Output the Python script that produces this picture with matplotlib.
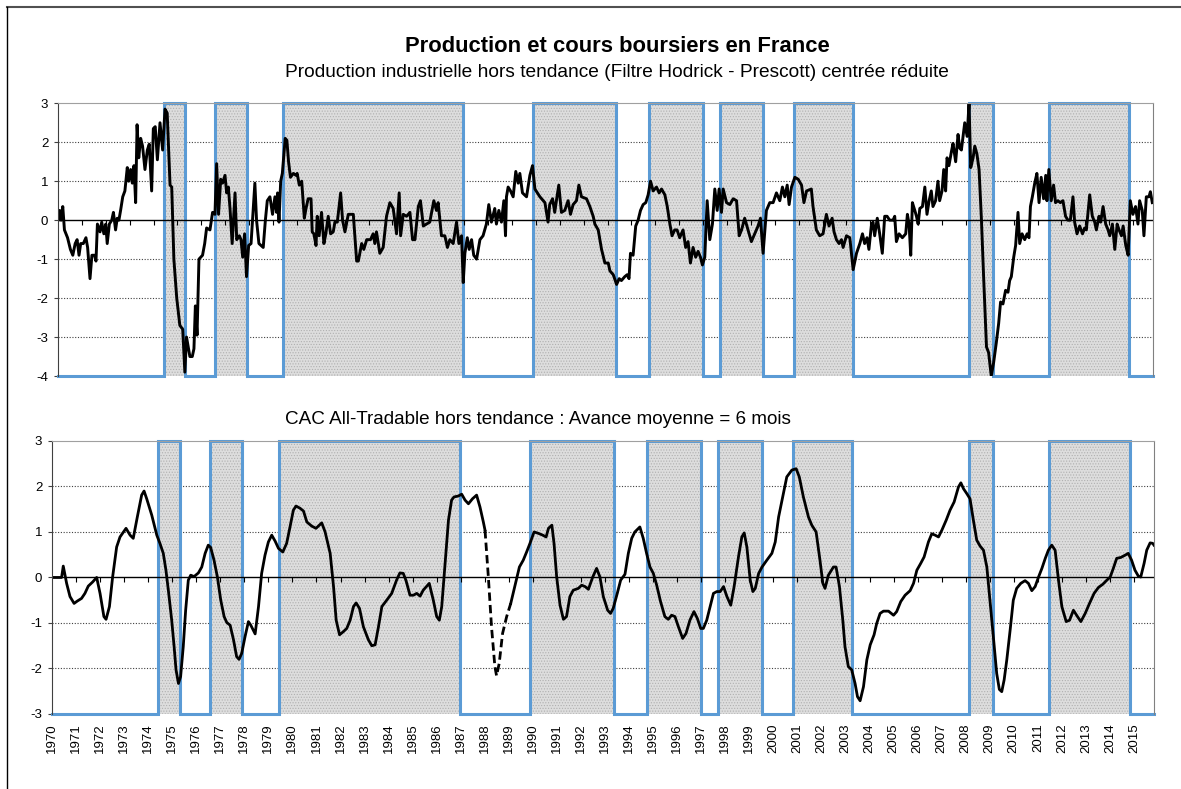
#!/usr/bin/env python3
"""
Production et cours boursiers en France : two stacked panels
(industrial production and CAC All-Tradable, detrended) with shaded phases.
"""

import matplotlib
matplotlib.use("Agg")
import matplotlib.pyplot as plt
from matplotlib.lines import Line2D

plt.rcParams["font.family"] = ["Liberation Sans", "DejaVu Sans"]
plt.rcParams["axes.unicode_minus"] = False
plt.rcParams["hatch.linewidth"] = 0.5

TITLE = "Production et cours boursiers en France"
SUBTITLE_TOP = "Production industrielle hors tendance (Filtre Hodrick - Prescott) centrée réduite"
SUBTITLE_BOTTOM = "CAC All-Tradable hors tendance : Avance moyenne = 6 mois"

# shaded phases (start, end) in decimal years
rec_start = [1974.42, 1976.58, 1979.43, 1989.86, 1994.75, 1997.69, 2000.82, 2008.12, 2011.46]
rec_end = [1975.31, 1977.90, 1986.97, 1993.36, 1997.00, 1999.52, 2003.28, 2009.15, 2014.83]

# industrial production, detrended and standardised
ip_year = [
    1970.00, 1970.07, 1970.13, 1970.20, 1970.27, 1970.40, 1970.52, 1970.62, 1970.72, 1970.80,
    1970.88, 1970.95, 1971.06, 1971.17, 1971.24, 1971.34, 1971.42, 1971.53, 1971.59, 1971.65,
    1971.76, 1971.83, 1971.92, 1972.00, 1972.06, 1972.15, 1972.25, 1972.32, 1972.41, 1972.48,
    1972.55, 1972.62, 1972.71, 1972.80, 1972.90, 1972.96, 1973.04, 1973.11, 1973.18, 1973.25,
    1973.31, 1973.38, 1973.46, 1973.54, 1973.64, 1973.74, 1973.82, 1973.92, 1973.99, 1974.07,
    1974.16, 1974.27, 1974.38, 1974.48, 1974.57, 1974.69, 1974.76, 1974.85, 1974.97, 1975.10,
    1975.22, 1975.31, 1975.38, 1975.52, 1975.62, 1975.69, 1975.75, 1975.82, 1975.90, 1976.05,
    1976.14, 1976.22, 1976.36, 1976.47, 1976.57, 1976.64, 1976.72, 1976.81, 1976.89, 1976.99,
    1977.06, 1977.13, 1977.20, 1977.29, 1977.41, 1977.48, 1977.59, 1977.66, 1977.73, 1977.81,
    1977.89, 1977.98, 1978.08, 1978.24, 1978.31, 1978.41, 1978.59, 1978.68, 1978.76, 1978.87,
    1978.98, 1979.08, 1979.15, 1979.19, 1979.25, 1979.32, 1979.39, 1979.51, 1979.58, 1979.65,
    1979.73, 1979.85, 1979.96, 1980.01, 1980.10, 1980.20, 1980.31, 1980.38, 1980.47, 1980.59,
    1980.64, 1980.71, 1980.80, 1980.85, 1980.93, 1981.03, 1981.13, 1981.21, 1981.31, 1981.41,
    1981.52, 1981.59, 1981.69, 1981.83, 1981.91, 1982.01, 1982.15, 1982.36, 1982.50, 1982.57,
    1982.71, 1982.80, 1982.92, 1983.08, 1983.19, 1983.26, 1983.33, 1983.47, 1983.61, 1983.75,
    1983.89, 1984.03, 1984.17, 1984.28, 1984.34, 1984.45, 1984.59, 1984.73, 1984.84, 1984.94,
    1985.08, 1985.17, 1985.29, 1985.42, 1985.56, 1985.73, 1985.84, 1985.91, 1986.05, 1986.19,
    1986.30, 1986.40, 1986.54, 1986.68, 1986.78, 1986.89, 1986.96, 1987.03, 1987.13, 1987.21,
    1987.31, 1987.40, 1987.52, 1987.66, 1987.79, 1987.93, 1988.03, 1988.14, 1988.28, 1988.35,
    1988.45, 1988.56, 1988.66, 1988.73, 1988.77, 1988.84, 1988.94, 1989.05, 1989.16, 1989.26,
    1989.33, 1989.44, 1989.61, 1989.75, 1989.86, 1989.96, 1990.17, 1990.38, 1990.51, 1990.58,
    1990.70, 1990.79, 1990.86, 1990.96, 1991.07, 1991.21, 1991.35, 1991.45, 1991.56, 1991.70,
    1991.80, 1991.91, 1992.12, 1992.26, 1992.40, 1992.47, 1992.61, 1992.75, 1992.89, 1993.03,
    1993.10, 1993.24, 1993.38, 1993.49, 1993.58, 1993.72, 1993.82, 1993.90, 1993.96, 1994.07,
    1994.18, 1994.28, 1994.38, 1994.49, 1994.60, 1994.70, 1994.80, 1994.91, 1995.05, 1995.16,
    1995.26, 1995.40, 1995.50, 1995.61, 1995.70, 1995.81, 1995.91, 1996.02, 1996.16, 1996.27,
    1996.37, 1996.47, 1996.58, 1996.69, 1996.79, 1996.89, 1996.97, 1997.07, 1997.17, 1997.28,
    1997.39, 1997.49, 1997.59, 1997.67, 1997.77, 1997.84, 1997.98, 1998.12, 1998.26, 1998.40,
    1998.51, 1998.61, 1998.74, 1998.88, 1999.02, 1999.16, 1999.30, 1999.40, 1999.51, 1999.65,
    1999.79, 1999.93, 2000.07, 2000.21, 2000.32, 2000.42, 2000.52, 2000.60, 2000.70, 2000.84,
    2000.98, 2001.12, 2001.22, 2001.33, 2001.53, 2001.60, 2001.74, 2001.88, 2002.02, 2002.16,
    2002.27, 2002.40, 2002.48, 2002.58, 2002.69, 2002.79, 2002.86, 2003.00, 2003.14, 2003.28,
    2003.42, 2003.56, 2003.67, 2003.76, 2003.86, 2003.94, 2004.04, 2004.11, 2004.18, 2004.29,
    2004.39, 2004.50, 2004.60, 2004.70, 2004.81, 2004.95, 2005.02, 2005.09, 2005.20, 2005.34,
    2005.48, 2005.55, 2005.62, 2005.69, 2005.76, 2005.86, 2005.93, 2006.00, 2006.07, 2006.18,
    2006.28, 2006.37, 2006.46, 2006.55, 2006.62, 2006.73, 2006.83, 2006.90, 2007.00, 2007.07,
    2007.15, 2007.21, 2007.29, 2007.39, 2007.46, 2007.57, 2007.67, 2007.74, 2007.81, 2007.95,
    2008.05, 2008.13, 2008.20, 2008.30, 2008.37, 2008.46, 2008.55, 2008.65, 2008.74, 2008.86,
    2008.95, 2009.06, 2009.16, 2009.27, 2009.37, 2009.45, 2009.55, 2009.66, 2009.76, 2009.83,
    2009.90, 2010.00, 2010.08, 2010.18, 2010.25, 2010.35, 2010.46, 2010.56, 2010.64, 2010.70,
    2010.78, 2010.88, 2010.97, 2011.06, 2011.15, 2011.25, 2011.34, 2011.39, 2011.47, 2011.57,
    2011.67, 2011.75, 2011.85, 2011.95, 2012.06, 2012.17, 2012.27, 2012.37, 2012.48, 2012.55,
    2012.65, 2012.76, 2012.88, 2012.97, 2013.04, 2013.18, 2013.29, 2013.39, 2013.46, 2013.57,
    2013.64, 2013.74, 2013.85, 2013.95, 2014.02, 2014.13, 2014.23, 2014.33, 2014.41, 2014.51,
    2014.58, 2014.69, 2014.79, 2014.88, 2014.99, 2015.10, 2015.20, 2015.27, 2015.38, 2015.45,
    2015.55, 2015.66, 2015.72, 2015.80,
]
ip_value = [
    0.00, 0.25, 0.00, 0.35, -0.25, -0.45, -0.75, -0.90, -0.60, -0.50,
    -0.90, -0.60, -0.60, -0.45, -0.70, -1.50, -0.90, -0.90, -1.05, -0.10,
    -0.30, -0.05, -0.35, -0.10, -0.60, -0.10, 0.00, 0.20, -0.25, 0.05,
    0.00, 0.25, 0.60, 0.75, 1.35, 1.00, 1.30, 0.95, 1.40, 0.45,
    2.45, 1.60, 2.10, 1.90, 1.30, 1.80, 1.95, 0.75, 2.35, 2.40,
    1.55, 2.50, 1.80, 2.85, 2.75, 0.90, 0.85, -1.00, -2.00, -2.70,
    -2.80, -3.90, -3.00, -3.50, -3.50, -3.30, -2.20, -2.95, -1.00, -0.90,
    -0.60, -0.20, -0.25, 0.20, 0.15, 1.45, 0.15, 1.05, 0.95, 1.15,
    0.70, 0.85, 0.30, -0.60, 0.70, -0.50, -0.40, -0.50, -0.95, -0.35,
    -1.45, -0.65, -0.60, 0.95, 0.00, -0.60, -0.70, 0.00, 0.50, 0.60,
    0.15, 0.60, 0.20, 0.70, -0.05, 1.00, 1.20, 2.10, 2.05, 1.50,
    1.10, 1.20, 1.15, 1.20, 0.90, 1.00, 0.05, 0.30, 0.55, 0.55,
    -0.30, -0.35, -0.65, 0.10, -0.40, 0.20, -0.60, -0.35, 0.10, -0.35,
    -0.30, -0.05, -0.05, 0.70, 0.00, -0.30, 0.15, 0.15, -1.05, -1.05,
    -0.60, -0.75, -0.50, -0.50, -0.35, -0.60, -0.30, -0.85, -0.70, 0.10,
    0.45, 0.30, -0.35, 0.70, -0.40, 0.15, 0.10, 0.20, -0.50, -0.50,
    0.35, 0.50, -0.15, -0.10, -0.05, 0.50, 0.25, 0.45, -0.40, -0.40,
    -0.70, -0.50, -0.60, -0.05, -0.60, -0.40, -1.60, -0.85, -0.45, -0.75,
    -0.50, -0.90, -1.00, -0.50, -0.40, -0.10, 0.40, -0.05, 0.30, -0.10,
    0.25, -0.05, 0.50, -0.40, 0.60, 0.85, 0.75, 0.60, 1.25, 0.95,
    1.20, 0.70, 0.60, 1.15, 1.40, 0.80, 0.60, 0.45, -0.05, 0.40,
    0.55, 0.20, 0.50, 0.90, 0.20, 0.25, 0.50, 0.15, 0.40, 0.50,
    0.90, 0.60, 0.55, 0.35, 0.10, -0.10, -0.25, -0.75, -1.10, -1.10,
    -1.30, -1.40, -1.65, -1.50, -1.55, -1.45, -1.40, -1.50, -0.85, -0.90,
    -0.15, 0.00, 0.25, 0.40, 0.45, 0.65, 1.00, 0.75, 0.85, 0.70,
    0.80, 0.65, 0.35, -0.10, -0.40, -0.25, -0.25, -0.45, -0.25, -0.70,
    -0.55, -1.10, -0.70, -0.95, -0.80, -0.95, -1.15, -0.95, 0.50, -0.50,
    -0.10, 0.80, 0.25, 0.80, 0.20, 0.80, 0.45, 0.40, 0.55, 0.50,
    -0.40, -0.25, 0.05, -0.25, -0.55, -0.35, -0.15, 0.05, -0.85, 0.25,
    0.45, 0.45, 0.70, 0.50, 0.85, 0.60, 0.90, 0.40, 0.85, 1.10,
    1.05, 0.90, 0.45, 0.75, 0.80, 0.35, -0.25, -0.40, -0.35, 0.15,
    -0.15, 0.05, -0.30, -0.50, -0.60, -0.50, -0.70, -0.40, -0.45, -1.27,
    -0.85, -0.60, -0.35, -0.60, -0.45, -0.75, -0.15, -0.05, -0.40, 0.05,
    -0.35, -0.85, 0.10, 0.10, 0.00, 0.00, 0.10, -0.55, -0.35, -0.45,
    -0.35, 0.15, -0.10, -0.90, 0.45, 0.25, 0.10, -0.10, 0.30, 0.35,
    0.85, 0.15, 0.50, 0.75, 0.35, 0.50, 1.00, 0.50, 0.75, 1.30,
    0.75, 1.60, 1.40, 1.75, 1.97, 1.50, 2.20, 1.85, 1.80, 2.50,
    2.15, 3.00, 1.35, 1.60, 1.90, 1.70, 1.30, 0.00, -1.45, -3.25,
    -3.40, -4.00, -3.65, -3.15, -2.65, -2.10, -2.15, -1.80, -1.85, -1.55,
    -1.45, -0.95, -0.65, 0.20, -0.60, -0.35, -0.50, -0.35, -0.45, 0.35,
    0.60, 0.95, 1.20, 0.45, 1.10, 0.55, 1.15, 0.50, 1.30, 0.50,
    0.90, 0.45, 0.50, 0.45, 0.50, 0.10, 0.00, 0.00, 0.60, -0.05,
    -0.35, -0.15, -0.35, -0.20, -0.25, 0.65, 0.10, -0.05, -0.25, 0.10,
    -0.05, 0.35, -0.10, -0.25, -0.40, -0.10, -0.75, -0.10, -0.25, -0.40,
    -0.15, -0.65, -0.90, 0.50, 0.15, 0.35, -0.10, 0.50, 0.25, -0.40,
    0.60, 0.60, 0.73, 0.45,
]

# CAC All-Tradable, detrended (dashed stretch in 1988)
cac_year = [
    1970.00, 1970.40, 1970.47, 1970.61, 1970.75, 1970.92, 1971.05, 1971.23, 1971.37, 1971.51,
    1971.69, 1971.86, 1972.00, 1972.16, 1972.25, 1972.39, 1972.52, 1972.69, 1972.83, 1973.08,
    1973.25, 1973.38, 1973.55, 1973.73, 1973.83, 1973.94, 1974.15, 1974.36, 1974.49, 1974.63,
    1974.74, 1974.84, 1974.98, 1975.08, 1975.16, 1975.26, 1975.35, 1975.46, 1975.56, 1975.67,
    1975.77, 1975.91, 1976.09, 1976.23, 1976.37, 1976.50, 1976.60, 1976.74, 1976.88, 1977.02,
    1977.16, 1977.27, 1977.41, 1977.55, 1977.68, 1977.78, 1977.89, 1978.03, 1978.17, 1978.27,
    1978.45, 1978.59, 1978.72, 1978.86, 1979.00, 1979.14, 1979.28, 1979.42, 1979.60, 1979.76,
    1979.90, 1980.04, 1980.15, 1980.32, 1980.46, 1980.60, 1980.80, 1980.98, 1981.08, 1981.22,
    1981.36, 1981.57, 1981.71, 1981.82, 1981.96, 1982.12, 1982.26, 1982.40, 1982.54, 1982.65,
    1982.79, 1982.95, 1983.16, 1983.30, 1983.44, 1983.58, 1983.72, 1983.92, 1984.13, 1984.33,
    1984.47, 1984.61, 1984.72, 1984.89, 1985.03, 1985.17, 1985.31, 1985.44, 1985.69, 1985.86,
    1986.00, 1986.11, 1986.21, 1986.35, 1986.49, 1986.62, 1986.72, 1986.90, 1987.04, 1987.18,
    1987.32, 1987.49, 1987.66, 1987.80, 1987.94, 1988.01, 1988.15, 1988.28, 1988.42, 1988.49,
    1988.60, 1988.74, 1988.91, 1989.08, 1989.26, 1989.44, 1989.60, 1989.74, 1989.88, 1990.05,
    1990.23, 1990.41, 1990.55, 1990.65, 1990.79, 1990.88, 1990.99, 1991.13, 1991.27, 1991.40,
    1991.54, 1991.68, 1991.89, 1992.03, 1992.17, 1992.31, 1992.49, 1992.65, 1992.79, 1992.93,
    1993.11, 1993.23, 1993.34, 1993.51, 1993.65, 1993.83, 1993.97, 1994.11, 1994.24, 1994.45,
    1994.59, 1994.73, 1994.87, 1995.01, 1995.15, 1995.31, 1995.49, 1995.63, 1995.77, 1995.91,
    1996.05, 1996.23, 1996.37, 1996.53, 1996.70, 1996.84, 1996.98, 1997.09, 1997.23, 1997.37,
    1997.51, 1997.65, 1997.79, 1997.93, 1998.07, 1998.23, 1998.37, 1998.55, 1998.69, 1998.79,
    1998.90, 1999.04, 1999.15, 1999.25, 1999.39, 1999.53, 1999.73, 1999.94, 2000.08, 2000.22,
    2000.39, 2000.56, 2000.77, 2000.95, 2001.08, 2001.25, 2001.46, 2001.60, 2001.78, 2001.94,
    2002.06, 2002.15, 2002.29, 2002.50, 2002.61, 2002.75, 2002.89, 2002.98, 2003.12, 2003.26,
    2003.40, 2003.50, 2003.61, 2003.75, 2003.89, 2004.03, 2004.19, 2004.30, 2004.44, 2004.58,
    2004.79, 2005.00, 2005.13, 2005.30, 2005.48, 2005.69, 2005.83, 2005.97, 2006.13, 2006.27,
    2006.45, 2006.59, 2006.73, 2006.87, 2007.01, 2007.19, 2007.35, 2007.52, 2007.70, 2007.80,
    2007.91, 2008.05, 2008.18, 2008.32, 2008.46, 2008.60, 2008.74, 2008.88, 2009.01, 2009.15,
    2009.29, 2009.40, 2009.50, 2009.60, 2009.71, 2009.85, 2009.98, 2010.12, 2010.29, 2010.47,
    2010.61, 2010.75, 2010.89, 2011.03, 2011.17, 2011.31, 2011.44, 2011.58, 2011.72, 2011.86,
    2012.00, 2012.18, 2012.32, 2012.48, 2012.65, 2012.79, 2012.97, 2013.15, 2013.34, 2013.52,
    2013.70, 2013.87, 2014.01, 2014.14, 2014.28, 2014.45, 2014.63, 2014.76, 2014.90, 2015.04,
    2015.18, 2015.28, 2015.42, 2015.53, 2015.67, 2015.78, 2015.83,
]
cac_value = [
    0.00, 0.00, 0.25, -0.13, -0.42, -0.57, -0.52, -0.46, -0.35, -0.19,
    -0.10, 0.00, -0.35, -0.86, -0.92, -0.64, 0.00, 0.67, 0.89, 1.08,
    0.93, 0.86, 1.33, 1.81, 1.90, 1.73, 1.37, 0.93, 0.75, 0.53,
    0.16, -0.28, -0.94, -1.52, -2.03, -2.33, -2.18, -1.52, -0.72, -0.06,
    0.05, 0.02, 0.10, 0.23, 0.53, 0.71, 0.66, 0.38, 0.01, -0.50,
    -0.86, -0.99, -1.05, -1.37, -1.74, -1.80, -1.67, -1.30, -0.97, -1.05,
    -1.24, -0.64, 0.09, 0.49, 0.78, 0.93, 0.80, 0.64, 0.56, 0.75,
    1.11, 1.48, 1.57, 1.52, 1.46, 1.22, 1.13, 1.08, 1.13, 1.20,
    1.00, 0.53, -0.20, -0.94, -1.26, -1.19, -1.12, -0.94, -0.64, -0.56,
    -0.68, -1.08, -1.37, -1.50, -1.48, -1.08, -0.64, -0.50, -0.35, -0.06,
    0.10, 0.09, -0.06, -0.39, -0.39, -0.35, -0.41, -0.28, -0.13, -0.50,
    -0.86, -0.94, -0.64, 0.31, 1.26, 1.70, 1.77, 1.79, 1.83, 1.70,
    1.62, 1.73, 1.81, 1.55, 1.22, 1.04, 0.00, -1.08, -1.96, -2.16,
    -1.89, -1.23, -0.86, -0.57, -0.17, 0.23, 0.38, 0.56, 0.75, 1.00,
    0.97, 0.93, 0.89, 1.08, 1.15, 0.75, 0.01, -0.61, -0.92, -0.86,
    -0.42, -0.28, -0.24, -0.17, -0.20, -0.26, 0.01, 0.20, 0.01, -0.42,
    -0.72, -0.79, -0.68, -0.35, -0.06, 0.07, 0.53, 0.86, 1.00, 1.11,
    0.86, 0.53, 0.23, 0.09, -0.17, -0.53, -0.86, -0.92, -0.83, -0.86,
    -1.08, -1.34, -1.23, -0.94, -0.75, -0.90, -1.12, -1.12, -0.94, -0.64,
    -0.35, -0.31, -0.31, -0.20, -0.42, -0.61, -0.20, 0.45, 0.89, 0.98,
    0.67, -0.06, -0.31, -0.24, 0.09, 0.23, 0.38, 0.53, 0.78, 1.33,
    1.77, 2.21, 2.36, 2.39, 2.21, 1.77, 1.33, 1.15, 1.00, 0.38,
    -0.13, -0.24, 0.05, 0.23, 0.23, -0.20, -0.94, -1.52, -1.96, -2.03,
    -2.33, -2.62, -2.71, -2.40, -1.81, -1.48, -1.26, -1.01, -0.79, -0.74,
    -0.74, -0.83, -0.75, -0.53, -0.39, -0.29, -0.13, 0.16, 0.31, 0.45,
    0.78, 0.96, 0.93, 0.89, 1.04, 1.26, 1.48, 1.66, 1.99, 2.08,
    1.95, 1.84, 1.73, 1.26, 0.82, 0.69, 0.60, 0.23, -0.50, -1.30,
    -2.11, -2.46, -2.51, -2.25, -1.81, -1.15, -0.50, -0.24, -0.13, -0.07,
    -0.13, -0.29, -0.20, 0.01, 0.20, 0.42, 0.60, 0.71, 0.60, -0.06,
    -0.64, -0.97, -0.94, -0.72, -0.86, -0.97, -0.79, -0.57, -0.35, -0.22,
    -0.15, -0.06, 0.01, 0.20, 0.42, 0.44, 0.49, 0.53, 0.38, 0.16,
    0.03, 0.01, 0.31, 0.60, 0.76, 0.75, 0.71,
]
cac_dash_from = 1988.01
cac_dash_to = 1989.08

years = list(range(1970, 2016))
X_END = 2015.83
BLUE = "#5b9bd5"


def draw_phases(ax, ymin, ymax):
    """Hatched boxes plus the blue step outline running along the floor."""
    xs, ys = [1970.0], [ymin]
    for s, e in zip(rec_start, rec_end):
        ax.fill_between([s, e], ymin, ymax, facecolor="#dddddd", edgecolor="#b0b0b0",
                        hatch="......", linewidth=0, zorder=1)
        xs += [s, s, e, e]
        ys += [ymin, ymax, ymax, ymin]
    xs.append(X_END)
    ys.append(ymin)
    ax.plot(xs, ys, color=BLUE, lw=2.2, zorder=2, clip_on=False,
            solid_joinstyle="miter")


def style_axes(ax, ymin, ymax, tick_len):
    ax.set_xlim(1970, X_END)
    ax.set_ylim(ymin, ymax)
    ax.set_yticks(range(ymin, ymax + 1))
    for v in range(ymin + 1, ymax):
        if v != 0:
            ax.axhline(v, color="#404040", lw=0.8, ls=(0, (1, 1.5)), zorder=0.5)
    ax.axhline(0, color="black", lw=1.0, zorder=2.5)
    ax.vlines(years[1:], -tick_len, 0, color="black", lw=0.8, zorder=2.5)
    ax.spines["bottom"].set_visible(False)
    ax.spines["top"].set_color("#a0a0a0")
    ax.spines["right"].set_color("#808080")
    ax.spines["left"].set_color("#404040")
    for sp in ax.spines.values():
        sp.set_zorder(4)
    ax.tick_params(axis="y", length=3, width=0.8, color="#404040",
                   labelsize=9.5, pad=4)


fig = plt.figure(figsize=(11.81, 7.89), dpi=100)
ax_top = fig.add_axes([0.0491, 0.5234, 0.9272, 0.3457])
ax_bot = fig.add_axes([0.0440, 0.0951, 0.9331, 0.3460])

# top panel
draw_phases(ax_top, -4, 3)
style_axes(ax_top, -4, 3, 0.12)
ax_top.plot(ip_year, ip_value, color="black", lw=2.1, zorder=3,
            solid_joinstyle="round")
ax_top.set_xticks([])

# bottom panel
draw_phases(ax_bot, -3, 3)
style_axes(ax_bot, -3, 3, 0.09)
solid_a = [(x, y) for x, y in zip(cac_year, cac_value) if x <= cac_dash_from]
dashed = [(x, y) for x, y in zip(cac_year, cac_value) if cac_dash_from <= x <= cac_dash_to]
solid_b = [(x, y) for x, y in zip(cac_year, cac_value) if x >= cac_dash_to]
for part, style in ((solid_a, "-"), (dashed, (0, (3, 1.5))), (solid_b, "-")):
    ax_bot.plot([p[0] for p in part], [p[1] for p in part], color="black",
                lw=2.0, ls=style, zorder=3, solid_joinstyle="round")
ax_bot.set_xticks(years)
ax_bot.set_xticklabels([str(y) for y in years], rotation=90, fontsize=9.5)
ax_bot.tick_params(axis="x", length=0, pad=7)

# titles
fig.text(0.5225, 0.941, TITLE, ha="center", va="center", fontsize=15.8,
         fontweight="bold")
fig.text(0.5225, 0.908, SUBTITLE_TOP, ha="center", va="center", fontsize=13.8)
fig.text(0.4555, 0.468, SUBTITLE_BOTTOM, ha="center", va="center", fontsize=13.6)

# frame: top and left edges only
fig.add_artist(Line2D([7 / 1181, 1], [1 - 6.5 / 789, 1 - 6.5 / 789],
                      transform=fig.transFigure, color="#505050", lw=1.5))
fig.add_artist(Line2D([7 / 1181, 7 / 1181], [0, 1 - 6.5 / 789],
                      transform=fig.transFigure, color="black", lw=1.0))

fig.savefig("out.png", dpi=100)
plt.close(fig)
